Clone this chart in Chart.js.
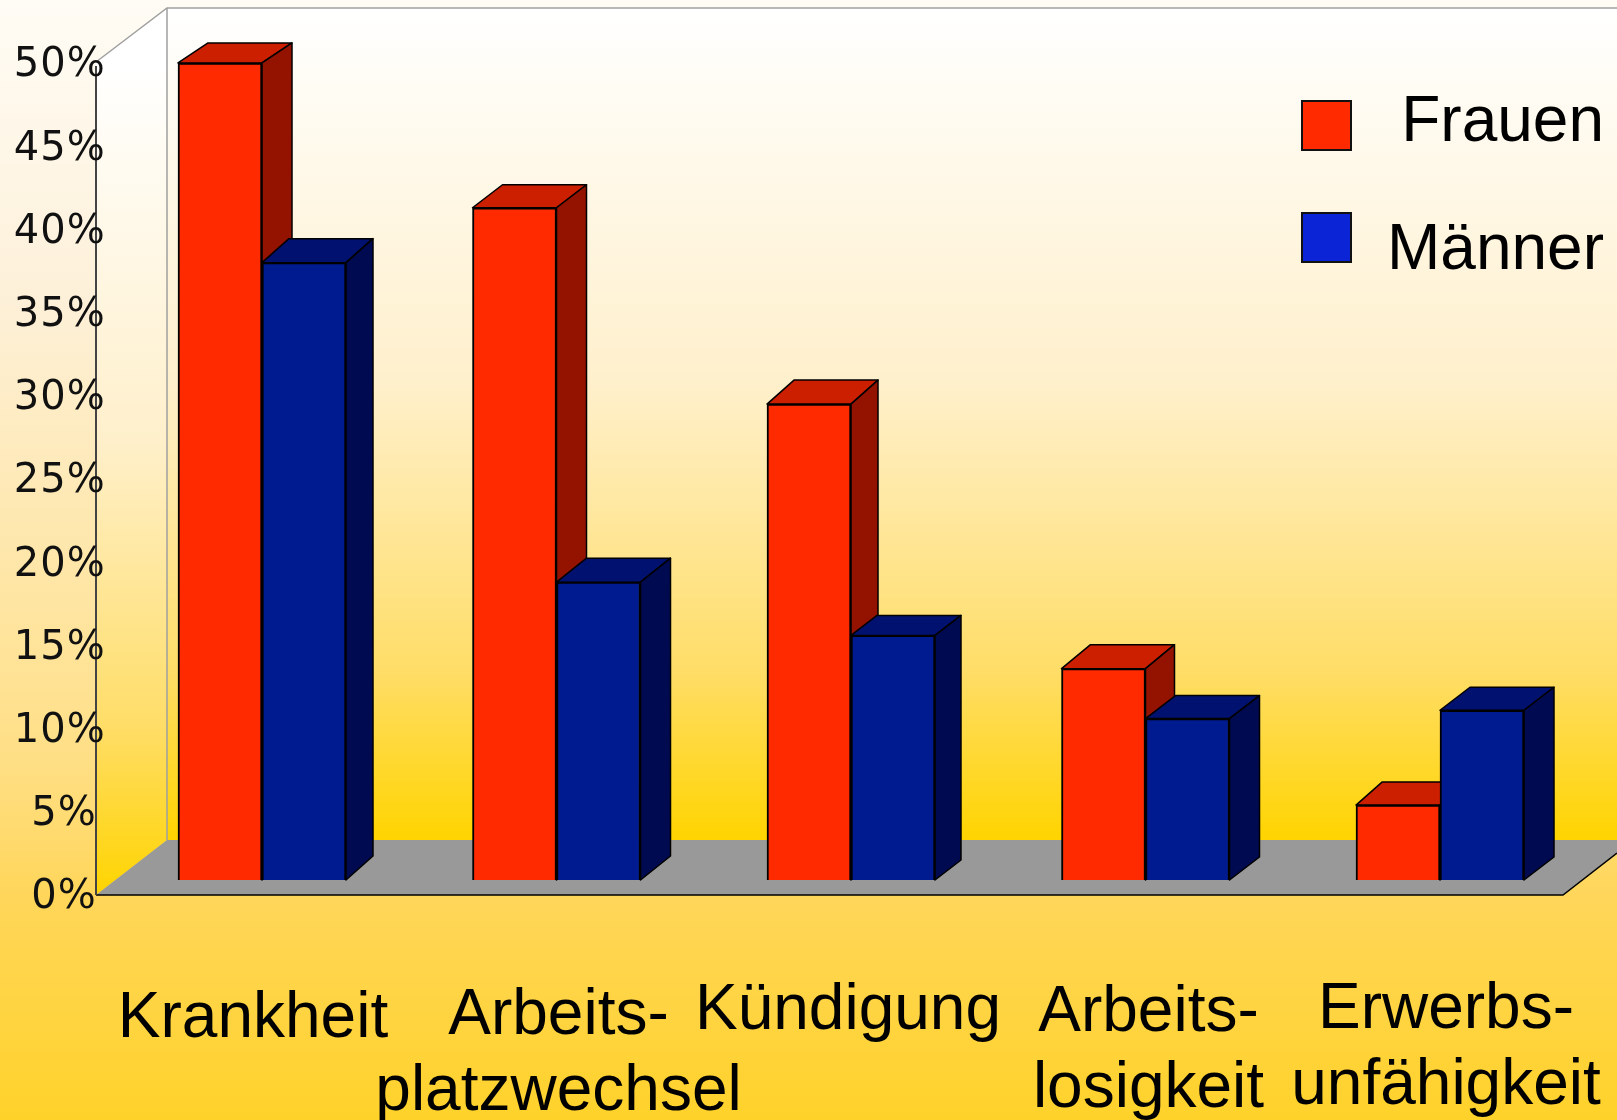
<!DOCTYPE html>
<html>
<head>
<meta charset="utf-8">
<title>Frauen und Männer</title>
<script src="https://cdn.jsdelivr.net/npm/chart.js@4"></script>
<style>
  html, body { margin: 0; padding: 0; background: #fff; }
  canvas { display: block; }
</style>
</head>
<body>
<canvas id="chart" width="1617" height="1120"></canvas>
<script>
const categories = ['Krankheit', ['Arbeits-', 'platzwechsel'], 'Kündigung', ['Arbeits-', 'losigkeit'], ['Erwerbs-', 'unfähigkeit']];
const frauen = [49.1, 40.4, 28.6, 12.7, 4.5];
const maenner = [37.1, 17.9, 14.7, 9.7, 10.2];
const yTickLabels = ['0%\u2009', '5%\u2009', '10%', '15%', '20%', '25%', '30%', '35%', '40%', '45%', '50%'];

// small shifts of the category labels, the original text boxes were placed by hand
const labelShiftX = [-9, 2, -3, 3, 6];
const labelY = [1037, 1034, 1029, 1031, 1028];

// the 3d depth is not quite the same on every bar in the original
const depthFrauen = [[30, 20], [30, 23], [27, 24], [29, 24], [26, 23]];
const depthMaenner = [[27, 24], [30, 24], [26, 20], [30, 23], [30, 23]];

const colors = {
  frauen: { front: '#ff2a00', top: '#cc1f00', side: '#941200', legend: '#ff2a00' },
  maenner: { front: '#001a8f', top: '#001170', side: '#000a50', legend: '#0a24d6' }
};

function wallGradient(ctx, y0, y1) {
  const g = ctx.createLinearGradient(0, y0, 0, y1);
  g.addColorStop(0, '#ffffff');
  g.addColorStop(0.45, '#fff0cc');
  g.addColorStop(0.8, '#ffdd66');
  g.addColorStop(1, '#ffd400');
  return g;
}

function polygon(ctx, pts, fill, stroke, lineWidth) {
  ctx.beginPath();
  pts.forEach((p, i) => i ? ctx.lineTo(p[0], p[1]) : ctx.moveTo(p[0], p[1]));
  ctx.closePath();
  if (fill) { ctx.fillStyle = fill; ctx.fill(); }
  if (stroke) { ctx.strokeStyle = stroke; ctx.lineWidth = lineWidth || 1; ctx.stroke(); }
}

const stagePlugin = {
  id: 'stage',
  beforeDraw(chart) {
    const ctx = chart.ctx;
    ctx.save();
    // slide background
    const bg = ctx.createLinearGradient(0, 0, 0, 1120);
    bg.addColorStop(0, '#fffcf5');
    bg.addColorStop(0.27, '#fdf0d8');
    bg.addColorStop(0.68, '#ffdf85');
    bg.addColorStop(0.8, '#ffd65a');
    bg.addColorStop(1, '#ffd22a');
    ctx.fillStyle = bg;
    ctx.fillRect(0, 0, 1617, 1120);
    // back wall and left wall
    polygon(ctx, [[167, 8], [1617, 8], [1617, 840], [167, 840]], wallGradient(ctx, 8, 840));
    polygon(ctx, [[96, 62], [167, 8], [167, 840], [96, 895]], wallGradient(ctx, 62, 895));
    ctx.strokeStyle = '#a0a0a0';
    ctx.lineWidth = 1.5;
    ctx.beginPath();
    ctx.moveTo(96, 62); ctx.lineTo(167, 8); ctx.lineTo(1617, 8);
    ctx.moveTo(167, 8); ctx.lineTo(167, 840);
    ctx.stroke();
    // floor
    polygon(ctx, [[96, 895], [167, 840], [1617, 840], [1617, 853], [1563, 895]], '#999999');
    ctx.strokeStyle = '#000';
    ctx.lineWidth = 1.5;
    ctx.beginPath();
    ctx.moveTo(96, 895); ctx.lineTo(1563, 895); ctx.lineTo(1617, 853);
    ctx.stroke();
    ctx.strokeStyle = '#444';
    ctx.lineWidth = 2;
    ctx.beginPath();
    ctx.moveTo(96, 66); ctx.lineTo(96, 895);
    ctx.stroke();
    ctx.restore();
    // the y labels are spaced out a little
    ctx.letterSpacing = '1px';
  },
  beforeDatasetsDraw(chart) {
    // top and side of every bar, the library draws the front face afterwards
    const ctx = chart.ctx;
    ctx.letterSpacing = '0px';
    ctx.save();
    ctx.lineJoin = 'round';
    [colors.frauen, colors.maenner].forEach((c, d) => {
      const depths = d === 0 ? depthFrauen : depthMaenner;
      chart.getDatasetMeta(d).data.forEach((bar, i) => {
        const l = bar.x - bar.width / 2;
        const r = bar.x + bar.width / 2;
        const dx = depths[i][0];
        const dy = depths[i][1];
        polygon(ctx, [[l, bar.y], [l + dx, bar.y - dy], [r + dx, bar.y - dy], [r, bar.y]], c.top, '#000', 1.5);
        polygon(ctx, [[r, bar.y], [r + dx, bar.y - dy], [r + dx, bar.base - dy], [r, bar.base]], c.side, '#000', 1.5);
      });
    });
    ctx.restore();
  },
  afterDraw(chart) {
    const ctx = chart.ctx;
    const x = chart.scales.x;
    ctx.save();
    ctx.fillStyle = '#000';
    ctx.font = '64px "Liberation Sans", Arial, sans-serif';
    ctx.textAlign = 'center';
    ctx.textBaseline = 'alphabetic';
    categories.forEach((label, i) => {
      const lines = Array.isArray(label) ? label : [label];
      lines.forEach((line, j) => {
        ctx.fillText(line, x.getPixelForTick(i) + labelShiftX[i], labelY[i] + j * 76);
      });
    });
    // legend
    polygon(ctx, [[1302, 101], [1351, 101], [1351, 150], [1302, 150]], colors.frauen.legend, '#111', 2);
    polygon(ctx, [[1302, 213], [1351, 213], [1351, 262], [1302, 262]], colors.maenner.legend, '#111', 2);
    ctx.fillStyle = '#000';
    ctx.textAlign = 'right';
    ctx.fillText('Frauen', 1604, 141);
    ctx.fillText('Männer', 1604, 269);
    ctx.restore();
  }
};

new Chart(document.getElementById('chart').getContext('2d'), {
  type: 'bar',
  data: {
    labels: categories,
    datasets: [
      { label: 'Frauen', data: frauen, backgroundColor: colors.frauen.front, borderColor: '#000', borderWidth: 2, barThickness: 84 },
      { label: 'Männer', data: maenner, backgroundColor: colors.maenner.front, borderColor: '#000', borderWidth: 2, barThickness: 84 }
    ]
  },
  plugins: [stagePlugin],
  options: {
    responsive: false,
    animation: false,
    layout: { padding: { left: 0, right: 29.75, top: 48, bottom: 240 } },
    plugins: { legend: { display: false }, tooltip: { enabled: false } },
    scales: {
      x: { display: false },
      y: {
        min: 0,
        max: 50,
        afterFit(scale) {
          scale.width = 114.75;
          scale.paddingTop = 0;
          scale.paddingBottom = 0;
        },
        grid: { display: false },
        border: { display: false },
        ticks: {
          stepSize: 5,
          padding: 1,
          labelOffset: 18,
          color: '#111',
          font: { family: '"DejaVu Sans"', size: 40 },
          callback: (value, i) => yTickLabels[i]
        }
      }
    }
  }
});
</script>
</body>
</html>
